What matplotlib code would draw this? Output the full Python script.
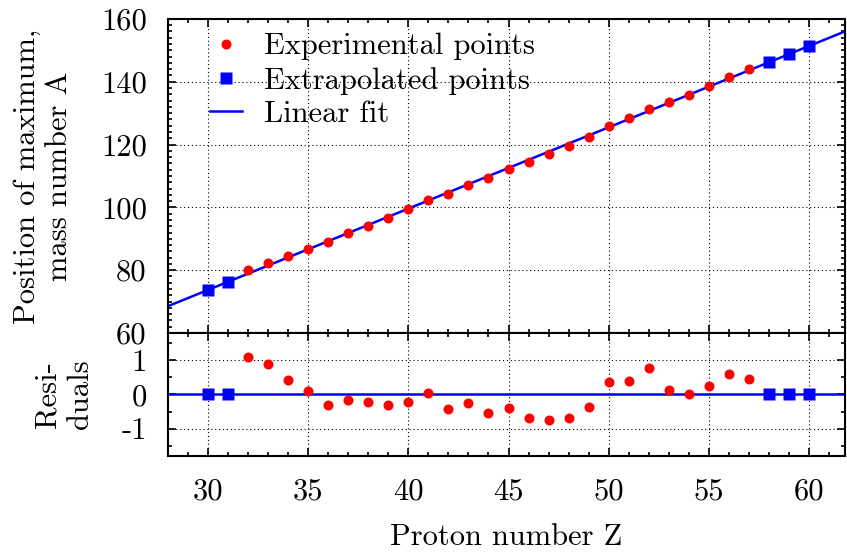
import matplotlib
matplotlib.use("Agg")
import matplotlib.pyplot as plt
from matplotlib.ticker import MultipleLocator

# -------- DATA --------
Z_exp = [32, 33, 34, 35, 36, 37, 38, 39, 40, 41, 42, 43, 44, 45,
         46, 47, 48, 49, 50, 51, 52, 53, 54, 55, 56, 57]
A_exp = [80.0, 82.4, 84.5, 86.7, 88.9, 91.7, 94.2, 96.7, 99.4, 102.2,
         104.35, 107.1, 109.4, 112.2, 114.45, 117.0, 119.6, 122.5, 125.9,
         128.5, 131.45, 133.4, 135.9, 138.7, 141.6, 144.1]
res_exp = [1.09, 0.89, 0.41, 0.09, -0.31, -0.16, -0.21, -0.31, -0.21, 0.05,
           -0.43, -0.26, -0.55, -0.40, -0.69, -0.76, -0.70, -0.38, 0.38,
           0.40, 0.77, 0.12, 0.01, 0.24, 0.59, 0.45]

Z_extra = [30, 31, 58, 59, 60]
A_extra = [73.7, 76.3, 146.2, 148.8, 151.4]
res_extra = [0, 0, 0, 0, 0]

fit_slope = 2.59
fit_intercept = -4.0
fit_range = [27, 63]

# -------- STYLE --------
plt.rcParams['font.family'] = 'serif'
plt.rcParams['font.serif'] = ['cmr10']
plt.rcParams['mathtext.fontset'] = 'cm'
plt.rcParams['axes.unicode_minus'] = False
plt.rcParams['font.size'] = 22

fig = plt.figure(figsize=(8.47, 5.56), dpi=100)
ax1 = fig.add_axes([0.198, 0.401, 0.800, 0.565])
ax2 = fig.add_axes([0.198, 0.180, 0.800, 0.221], sharex=ax1)

fit_y = [fit_slope * z + fit_intercept for z in fit_range]

ax1.plot(Z_exp, A_exp, 'o', color='red', ms=7.2, mec='none', label='Experimental points', zorder=3)
ax1.plot(Z_extra, A_extra, 's', color='blue', ms=8, mec='none', label='Extrapolated points', zorder=3)
ax1.plot(fit_range, fit_y, '-', color='blue', lw=1.8, label='Linear fit', zorder=2)

ax2.plot(fit_range, [0, 0], '-', color='blue', lw=1.8, zorder=2)
ax2.plot(Z_exp, res_exp, 'o', color='red', ms=7.2, mec='none', zorder=3)
ax2.plot(Z_extra, res_extra, 's', color='blue', ms=8, mec='none', zorder=3)

ax1.set_xlim(28, 61.8)
ax1.set_ylim(60, 160)
ax2.set_ylim(-1.8, 1.8)

ax1.xaxis.set_major_locator(MultipleLocator(5))
ax1.xaxis.set_minor_locator(MultipleLocator(1))
ax1.yaxis.set_major_locator(MultipleLocator(20))
ax1.yaxis.set_minor_locator(MultipleLocator(2))
ax2.yaxis.set_major_locator(MultipleLocator(1))
ax2.yaxis.set_minor_locator(MultipleLocator(0.5))

for ax in [ax1, ax2]:
    ax.grid(True, which='major', color='black', ls=(0, (1, 2.5)), lw=0.8)
    ax.tick_params(which='both', direction='in', top=True, right=True, width=1.2, pad=15)
    ax.tick_params(which='major', length=6)
    ax.tick_params(which='minor', length=3)
    for s in ax.spines.values():
        s.set_linewidth(1.5)
    ax.set_axisbelow(True)

plt.setp(ax1.get_xticklabels(), visible=False)
ax2.tick_params(axis='x', pad=16)

ax1.set_ylabel('Position of maximum,\nmass number A', labelpad=20)
ax2.set_ylabel('Resi-\nduals', labelpad=20)
ax2.set_xlabel('Proton number Z', labelpad=13)
fig.align_ylabels([ax1, ax2])

ax1.legend(loc='upper left', bbox_to_anchor=(0.062, 0.955), frameon=False,
           handlelength=1.07, handletextpad=0.7, labelspacing=0.2,
           borderaxespad=0, borderpad=0, numpoints=1)

fig.savefig('out.png', dpi=100)
